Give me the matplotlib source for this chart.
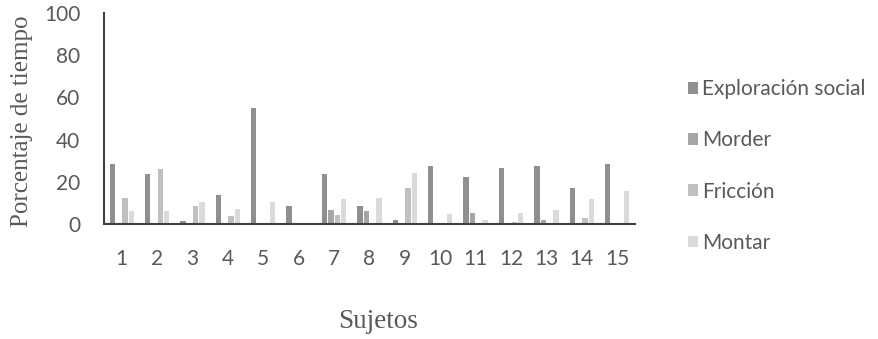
import numpy as np
import matplotlib
matplotlib.use("Agg")
import matplotlib.pyplot as plt

sujetos = [str(i) for i in range(1, 16)]
series = ["Exploración social", "Morder", "Fricción", "Montar"]

exploracion = [28.5, 23.8, 1.6, 13.9, 55.2, 8.4, 23.6, 8.4, 2.0, 27.4, 22.3, 26.8, 27.4, 17.2, 28.7]
morder      = [0, 0, 0, 0, 0, 0, 6.6, 6.3, 0, 0, 5.4, 0, 2.1, 0, 0]
friccion    = [12.5, 26.0, 8.5, 3.9, 0, 0, 4.4, 0, 17.0, 0, 0, 1.1, 0, 2.7, 0]
montar      = [6.2, 6.2, 10.3, 7.1, 10.7, 0, 11.7, 12.2, 24.2, 4.6, 1.8, 5.4, 6.6, 11.8, 15.6]

colores = ["#8f8f8f", "#a5a5a5", "#c0c0c0", "#dadada"]
texto = "#595959"

fig = plt.figure(figsize=(8.79, 3.39), dpi=100)
ax = fig.add_axes([0.1183, 0.339, 0.604, 0.6224])

x = np.arange(1, 16)
paso = 0.179
ancho = 0.15
for i, (vals, nombre, c) in enumerate(zip([exploracion, morder, friccion, montar], series, colores)):
    ax.bar(x + (i - 1.5) * paso, vals, width=ancho, color=c, label=nombre)

ax.set_xlim(0.5, 15.5)
ax.set_ylim(0, 100)
ax.set_yticks([0, 20, 40, 60, 80, 100])
ax.set_xticks(x)
ax.set_xticklabels(sujetos)
ax.tick_params(length=0, labelsize=15, colors=texto, labelfontfamily="Lato")
ax.tick_params(axis="x", pad=18)
ax.tick_params(axis="y", pad=17)

for s in ["top", "right"]:
    ax.spines[s].set_visible(False)
for s in ["left", "bottom"]:
    ax.spines[s].set_color("#404040")
    ax.spines[s].set_linewidth(1.5)

fig.text(22 / 879, 1 - 121 / 339, "Porcentaje de tiempo", fontsize=18, family="Liberation Serif",
         color=texto, ha="center", va="center", rotation=90)
fig.text(378 / 879, 1 - 321 / 339, "Sujetos", fontsize=19.5, family="Liberation Serif",
         color=texto, ha="center", va="center")

leg = ax.legend(loc="center left", bbox_to_anchor=(1.08, 0.275), frameon=False,
                prop={"family": "Lato", "size": 15}, labelspacing=1.5,
                handlelength=0.5, handleheight=0.5, handletextpad=0.2, borderpad=0)
for t in leg.get_texts():
    t.set_color(texto)

fig.savefig("out.png", dpi=100)
